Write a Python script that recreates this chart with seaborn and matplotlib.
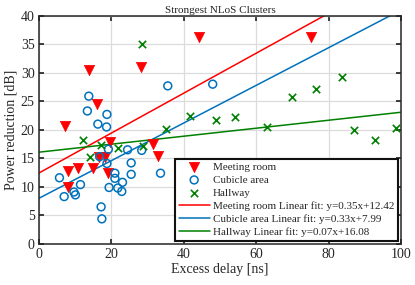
import numpy as np
import pandas as pd
import seaborn as sns
import matplotlib
matplotlib.use("Agg")
import matplotlib.pyplot as plt

# excess delay [ns] / power reduction [dB] per environment
meeting_delay = [7.2, 13.9, 16.2, 28.2, 44.1, 75.1, 19.6, 31.5, 33.0, 8.0,
                 10.9, 14.9, 16.5, 18.3, 19.2, 8.0]
meeting_power = [20.7, 30.5, 24.5, 31.0, 36.3, 36.3, 17.9, 17.5, 15.4, 12.7,
                 13.3, 13.3, 15.3, 15.2, 12.5, 9.9]

cubicle_delay = [5.7, 7.0, 9.7, 10.1, 11.5, 16.8, 18.8, 19.2, 21.0, 21.0,
                 19.4, 21.8, 23.1, 22.9, 24.5, 25.5, 25.5, 28.4, 33.6, 17.2,
                 17.4, 13.8, 13.4, 18.8, 16.3, 18.7, 35.6, 48.0]
cubicle_power = [11.6, 8.3, 9.1, 8.6, 10.4, 15.3, 14.1, 16.6, 12.4, 11.5,
                 9.9, 9.8, 10.8, 9.2, 16.5, 14.2, 12.2, 16.4, 12.4, 6.5,
                 4.4, 25.9, 23.3, 22.7, 21.0, 20.5, 27.7, 28.0]

hallway_delay = [12.1, 14.2, 17.3, 21.9, 28.8, 28.6, 35.2, 41.8, 49.0, 54.1,
                 63.0, 69.8, 76.6, 83.7, 86.9, 92.7, 98.7]
hallway_power = [18.3, 15.2, 17.3, 16.9, 17.1, 35.1, 20.1, 22.4, 21.8, 22.2,
                 20.5, 25.8, 27.1, 29.2, 20.0, 18.2, 20.4]

# linear fits as given in the legend
fit_names = ["Meeting room", "Cubicle area", "Hallway"]
fit_slope = [0.35, 0.33, 0.07]
fit_intercept = [12.42, 7.99, 16.08]

RED = "#FF0000"
BLUE = "#0072BD"
GREEN = "#008000"


def plot_clusters():
    sns.set_theme(style="whitegrid", rc={
        "grid.color": "#DCDCDC",
        "grid.linewidth": 0.9,
        "axes.edgecolor": "#262626",
        "axes.linewidth": 1.1,
        "xtick.direction": "in",
        "ytick.direction": "in",
        "xtick.major.size": 3.5,
        "ytick.major.size": 3.5,
        "xtick.bottom": True,
        "xtick.top": True,
        "ytick.left": True,
        "ytick.right": True,
    })
    plt.rcParams["font.family"] = ["Liberation Serif", "DejaVu Serif"]

    fig = plt.figure(figsize=(4.15, 2.85), dpi=100)
    ax = fig.add_axes([0.0935, 0.144, 0.873, 0.801])

    df_m = pd.DataFrame({"delay": meeting_delay, "power": meeting_power})
    df_c = pd.DataFrame({"delay": cubicle_delay, "power": cubicle_power})
    df_h = pd.DataFrame({"delay": hallway_delay, "power": hallway_power})

    sns.scatterplot(data=df_m, x="delay", y="power", ax=ax, marker="v",
                    s=55, color=RED, edgecolor=RED, linewidth=0.5,
                    label="Meeting room", zorder=3)
    sns.scatterplot(data=df_c, x="delay", y="power", ax=ax, marker="o",
                    s=32, color=BLUE, facecolor="none", edgecolor=BLUE,
                    linewidth=1.1, label="Cubicle area", zorder=3)
    sns.scatterplot(data=df_h, x="delay", y="power", ax=ax, marker="x",
                    s=28, color=GREEN, linewidth=1.2, label="Hallway",
                    zorder=3)

    xs = np.array([0.0, 100.0])
    for name, k, b, col in zip(fit_names, fit_slope, fit_intercept,
                               [RED, BLUE, GREEN]):
        df_fit = pd.DataFrame({"delay": xs, "power": k * xs + b})
        sns.lineplot(data=df_fit, x="delay", y="power", ax=ax, color=col,
                     linewidth=1.1,
                     label=f"{name} Linear fit: y={k:.2f}x+{b:.2f}")

    ax.set_xlim(0, 100)
    ax.set_ylim(0, 40)
    ax.set_xticks(range(0, 101, 20))
    ax.set_yticks(range(0, 41, 5))
    ax.tick_params(labelsize=10, pad=3, colors="#262626")
    ax.set_xlabel("Excess delay [ns]", fontsize=10, labelpad=1)
    ax.set_ylabel("Power reduction [dB]", fontsize=10, labelpad=2)
    ax.set_title("Strongest NLoS Clusters", fontsize=8, pad=2)
    for sp in ax.spines.values():
        sp.set_visible(True)

    leg = ax.legend(loc="lower right", fontsize=8, frameon=True,
                    fancybox=False, framealpha=1, edgecolor="#111111",
                    labelspacing=0.3, handlelength=2.8, handletextpad=0.3,
                    borderpad=0.3, borderaxespad=0.3)
    leg.get_frame().set_linewidth(1.5)
    return fig


if __name__ == "__main__":
    f = plot_clusters()
    f.savefig("out.png", dpi=100)
